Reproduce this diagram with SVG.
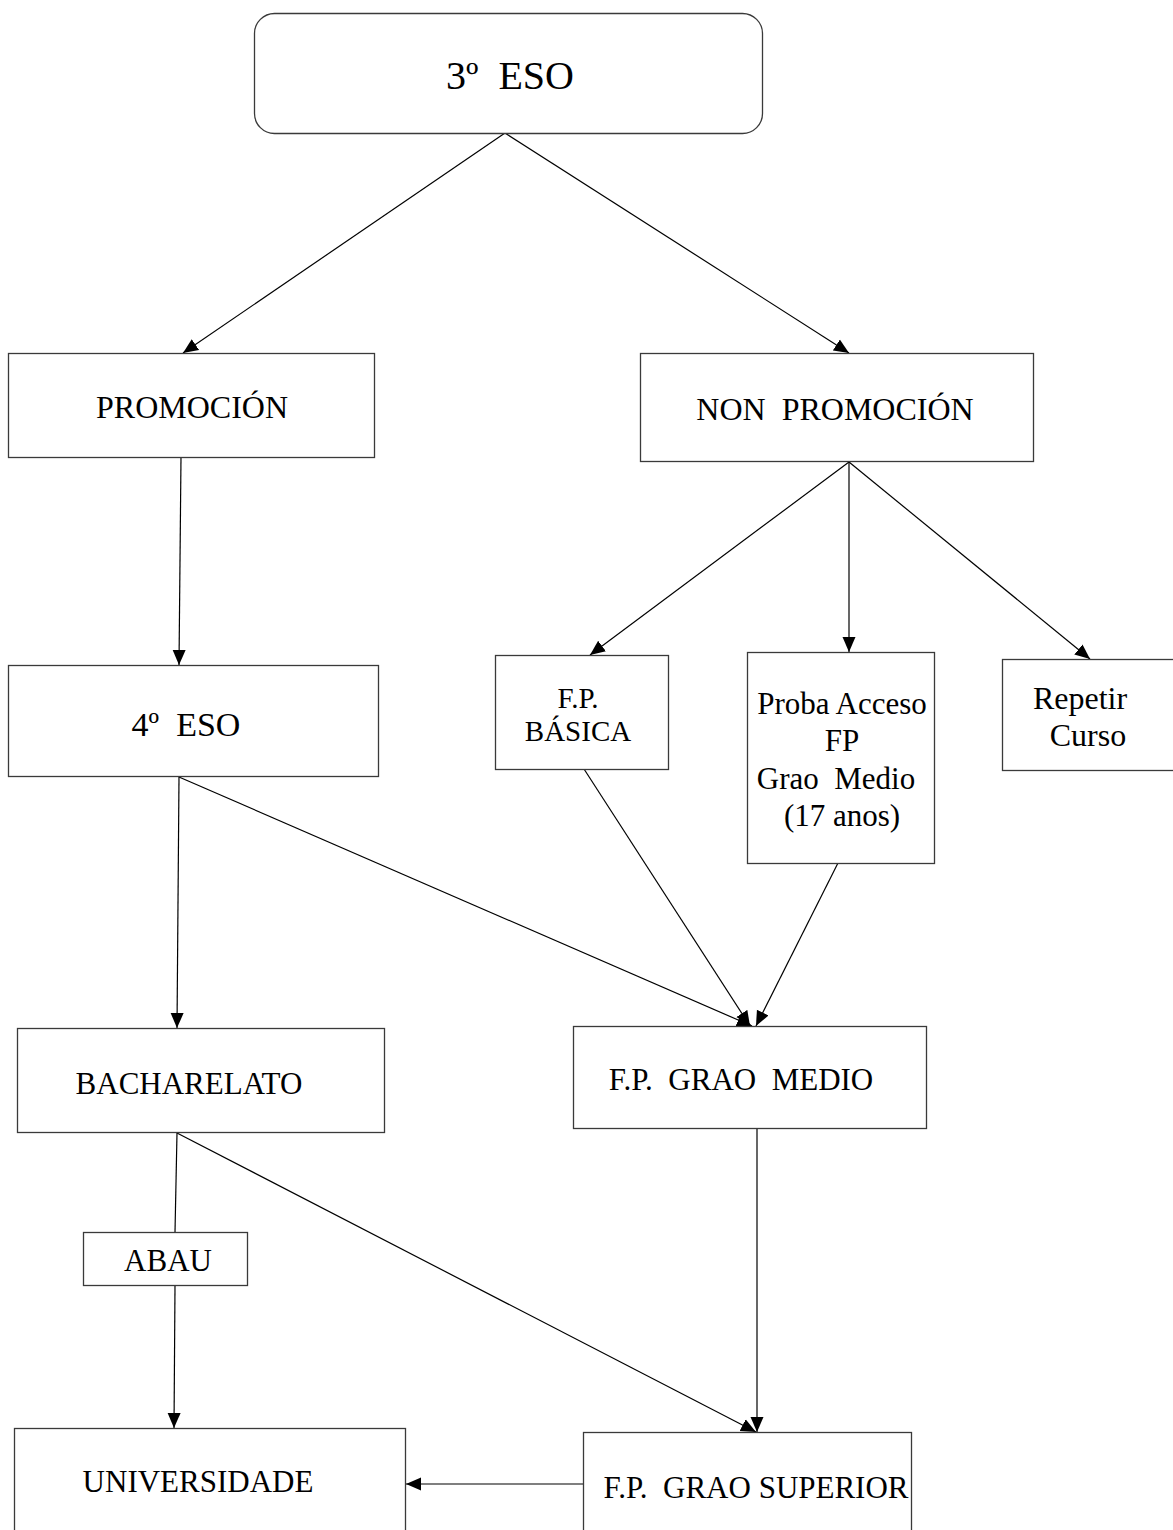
<svg xmlns="http://www.w3.org/2000/svg" width="1173" height="1530" viewBox="0 0 1173 1530">
<defs>
<marker id="arr" markerUnits="userSpaceOnUse" markerWidth="15" markerHeight="15" viewBox="0 0 15 15" refX="15" refY="7.5" orient="auto">
<path d="M0,1 L15,7.5 L0,14 Z" fill="#000"/>
</marker>
<style>
.box{fill:#fff;stroke:#3a3a3a;stroke-width:1.3}
.t{font-family:"Liberation Serif","Times New Roman",serif;font-size:31px;fill:#000;text-anchor:middle;white-space:pre}
.c{stroke:#000;stroke-width:1.2;fill:none}
.a{marker-end:url(#arr)}
</style>
</defs>
<rect width="1173" height="1530" fill="#fff"/>
<g id="connectors">
<line class="c a" x1="505" y1="133" x2="183" y2="353"/>
<line class="c a" x1="505" y1="133" x2="849" y2="353"/>
<line class="c a" x1="181" y1="457" x2="179" y2="665"/>
<line class="c a" x1="849" y1="462" x2="590" y2="655"/>
<line class="c a" x1="849" y1="462" x2="849" y2="652"/>
<line class="c a" x1="849" y1="462" x2="1090" y2="659"/>
<line class="c a" x1="179" y1="777" x2="177" y2="1028"/>
<line class="c a" x1="179" y1="777" x2="752" y2="1026"/>
<line class="c a" x1="584" y1="769" x2="750" y2="1026"/>
<line class="c a" x1="838" y1="863" x2="756" y2="1026"/>
<line class="c" x1="177" y1="1133" x2="175" y2="1232"/>
<line class="c a" x1="175" y1="1286" x2="174" y2="1428"/>
<line class="c a" x1="177" y1="1133" x2="756" y2="1432"/>
<line class="c a" x1="757" y1="1129" x2="757" y2="1432"/>
<line class="c a" x1="583" y1="1484" x2="406" y2="1484"/>
</g>
<g id="n3eso">
<rect class="box" x="254.5" y="13.5" width="508" height="120" rx="20"/>
<text class="t" x="510" y="89" xml:space="preserve" style="font-size:40px">3º  ESO</text>
</g>
<g id="promocion">
<rect class="box" x="8.5" y="353.5" width="366" height="104"/>
<text class="t" x="192" y="418" style="font-size:32px">PROMOCIÓN</text>
</g>
<g id="nonpromocion">
<rect class="box" x="640.5" y="353.5" width="393" height="108"/>
<text class="t" x="835" y="420" xml:space="preserve" style="font-size:32px">NON  PROMOCIÓN</text>
</g>
<g id="n4eso">
<rect class="box" x="8.5" y="665.5" width="370" height="111"/>
<text class="t" x="186" y="736" xml:space="preserve" style="font-size:34px">4º  ESO</text>
</g>
<g id="fpbasica">
<rect class="box" x="495.5" y="655.5" width="173" height="114"/>
<text class="t" x="578" y="708" style="font-size:29px">F.P.</text>
<text class="t" x="578" y="741" style="font-size:29px">BÁSICA</text>
</g>
<g id="proba">
<rect class="box" x="747.5" y="652.5" width="187" height="211"/>
<text class="t" x="842" y="714">Proba Acceso</text>
<text class="t" x="842" y="751">FP</text>
<text class="t" x="836" y="789" xml:space="preserve">Grao  Medio</text>
<text class="t" x="842" y="826">(17 anos)</text>
</g>
<g id="repetir">
<rect class="box" x="1002.5" y="659.5" width="180" height="111"/>
<text class="t" x="1080" y="709" style="font-size:32px">Repetir</text>
<text class="t" x="1088" y="746" style="font-size:32px">Curso</text>
</g>
<g id="bacharelato">
<rect class="box" x="17.5" y="1028.5" width="367" height="104"/>
<text class="t" x="189" y="1094">BACHARELATO</text>
</g>
<g id="fpgraomedio">
<rect class="box" x="573.5" y="1026.5" width="353" height="102"/>
<text class="t" x="741" y="1090" xml:space="preserve">F.P.  GRAO  MEDIO</text>
</g>
<g id="abau">
<rect class="box" x="83.5" y="1232.5" width="164" height="53"/>
<text class="t" x="168" y="1271">ABAU</text>
</g>
<g id="universidade">
<rect class="box" x="14.5" y="1428.5" width="391" height="120"/>
<text class="t" x="198" y="1492">UNIVERSIDADE</text>
</g>
<g id="fpgraosuperior">
<rect class="box" x="583.5" y="1432.5" width="328" height="120"/>
<text class="t" x="756" y="1498" xml:space="preserve">F.P.  GRAO SUPERIOR</text>
</g>
</svg>
